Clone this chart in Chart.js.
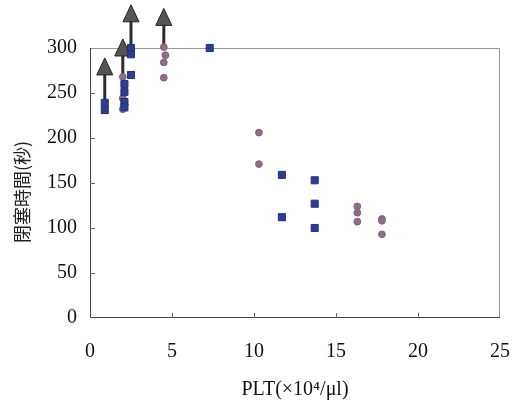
<!DOCTYPE html>
<html>
<head>
<meta charset="utf-8">
<script src="https://cdn.jsdelivr.net/npm/chart.js@4"></script>
<style>
  html, body { margin: 0; padding: 0; background: #fff; }
  #wrap { width: 516px; height: 402px; }
</style>
</head>
<body>
<div id="wrap"><canvas id="c" width="516" height="402"></canvas></div>
<script>
// blue squares
const squareX = [0.9, 0.9, 2.1, 2.1, 2.1, 2.1, 2.5, 2.5, 2.5, 7.3, 11.7, 11.7, 13.7, 13.7, 13.7]
const squareY = [239, 231, 260, 251, 240, 234, 300, 293, 270, 300, 159, 112, 153, 127, 100]
// mauve circles
const circleX = [2.0, 2.0, 2.0, 4.5, 4.6, 4.5, 4.5, 10.3, 10.3, 16.3, 16.3, 16.3, 17.8, 17.8, 17.8]
const circleY = [268, 244, 232, 301, 292, 284, 267, 206, 171, 124, 117, 107, 110, 108, 93]
// arrows (x, from, to)
const arrowX = [0.9, 2.0, 2.5, 4.5]
const arrowFrom = [242, 264, 300, 300]
const arrowTo = [289, 310, 348, 344]

const xTicks = [0, 5, 10, 15, 20, 25]
const yTicks = [0, 50, 100, 150, 200, 250, 300]
const yTitle = '閉塞時間(秒)'

const toPts = (xs, ys) => xs.map((x, i) => ({x: x, y: ys[i]}))

const serif = "'Liberation Serif', 'Times New Roman', serif"

// no label overhang padding, fixed axis boxes
const fitX = s => { s.height = 84; s.paddingLeft = 0; s.paddingRight = 0 }
const fitY = s => { s.width = 90; s.paddingTop = 0; s.paddingBottom = 0 }

// frame, inner ticks, arrows, y title
const framePlugin = {
  id: 'frame',
  beforeDatasetsDraw(chart) {
    const {ctx, chartArea: a, scales: {x, y}} = chart
    ctx.save()
    // box
    ctx.lineWidth = 1
    ctx.strokeStyle = '#999'
    ctx.beginPath()
    ctx.moveTo(a.left, a.top + 0.5)
    ctx.lineTo(a.right - 0.5, a.top + 0.5)
    ctx.lineTo(a.right - 0.5, a.bottom)
    ctx.stroke()
    ctx.strokeStyle = '#444'
    ctx.beginPath()
    ctx.moveTo(a.left + 0.5, a.top)
    ctx.lineTo(a.left + 0.5, a.bottom - 0.5)
    ctx.lineTo(a.right, a.bottom - 0.5)
    ctx.stroke()
    // inner ticks
    ctx.strokeStyle = '#666'
    ctx.beginPath()
    yTicks.slice(1, -1).forEach(v => {
      const py = Math.round(y.getPixelForValue(v)) + 0.5
      ctx.moveTo(a.left, py)
      ctx.lineTo(a.left + 5, py)
    })
    xTicks.slice(1, -1).forEach(v => {
      const px = Math.round(x.getPixelForValue(v)) + 0.5
      ctx.moveTo(px, a.bottom)
      ctx.lineTo(px, a.bottom - 5)
    })
    ctx.stroke()
    // arrows
    arrowX.forEach((ax, i) => {
      const px = x.getPixelForValue(ax)
      const p0 = y.getPixelForValue(arrowFrom[i])
      const p1 = y.getPixelForValue(arrowTo[i])
      ctx.strokeStyle = '#2e2e2e'
      ctx.lineWidth = 3
      ctx.beginPath()
      ctx.moveTo(px, p0)
      ctx.lineTo(px, p1 + 14)
      ctx.stroke()
      ctx.fillStyle = '#555'
      ctx.strokeStyle = '#222'
      ctx.lineWidth = 1
      ctx.beginPath()
      ctx.moveTo(px, p1)
      ctx.lineTo(px - 8, p1 + 17)
      ctx.lineTo(px + 8, p1 + 17)
      ctx.closePath()
      ctx.fill()
      ctx.stroke()
    })
    // y axis title, sits a bit below the plot centre in the original
    ctx.translate(22, a.top + (a.bottom - a.top) / 2 + 9)
    ctx.rotate(-Math.PI / 2)
    ctx.fillStyle = '#222'
    ctx.font = "18px 'Noto Sans CJK JP', sans-serif"
    ctx.textAlign = 'center'
    ctx.textBaseline = 'middle'
    ctx.fillText(yTitle, 0, 0)
    ctx.restore()
  }
}

new Chart(document.getElementById('c'), {
  type: 'scatter',
  data: {
    datasets: [
      {
        data: toPts(squareX, squareY),
        pointStyle: 'rect',
        pointRadius: 5,
        backgroundColor: '#2f3d8f',
        borderColor: '#253278',
        borderWidth: 1,
        clip: false
      },
      {
        data: toPts(circleX, circleY),
        pointStyle: 'circle',
        pointRadius: 3.4,
        backgroundColor: '#8d6f88',
        borderColor: '#7d6079',
        borderWidth: 1,
        clip: false
      }
    ]
  },
  options: {
    responsive: false,
    animation: false,
    layout: { padding: { top: 48, right: 16, left: 0, bottom: 0 } },
    plugins: { legend: { display: false }, tooltip: { enabled: false } },
    scales: {
      x: {
        type: 'linear',
        min: 0, max: 25,
        afterBuildTicks: s => { s.ticks = xTicks.map(v => ({value: v})) },
        afterFit: fitX,
        grid: { display: false, drawTicks: false },
        border: { display: false },
        ticks: { color: '#111', padding: 22, font: { family: serif, size: 20 } },
        title: {
          display: true, text: 'PLT(×10⁴/μl)', color: '#111',
          padding: { top: 0, bottom: 0 },
          font: { family: serif, size: 20 }
        }
      },
      y: {
        type: 'linear',
        min: 0, max: 300,
        afterBuildTicks: s => { s.ticks = yTicks.map(v => ({value: v})) },
        afterFit: fitY,
        grid: { display: false, drawTicks: false },
        border: { display: false },
        ticks: { color: '#111', padding: 13, font: { family: serif, size: 20 } },
        title: { display: false }
      }
    }
  },
  plugins: [framePlugin]
})
</script>
</body>
</html>
